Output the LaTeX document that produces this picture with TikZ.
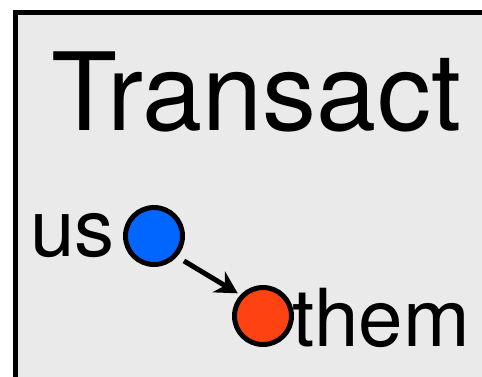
\documentclass[tikz,border=0pt]{standalone}
\usepackage{fontspec}
\setmainfont{TeX Gyre Heros}
\usetikzlibrary{positioning,arrows.meta}

\definecolor{panel}{RGB}{234,234,234}
\definecolor{usblue}{RGB}{0,102,255}
\definecolor{themred}{RGB}{255,66,17}

\begin{document}
\begin{tikzpicture}[x=1pt, y=-1pt,
        dot/.style={circle, draw=black, line width=5pt, minimum size=57pt, inner sep=0pt},
        word/.style={inner sep=0pt, font=\fontsize{80}{82}\selectfont}]
        \useasboundingbox (0,0) rectangle (482,376);
        \clip (0,0) rectangle (482,376);

        \draw[black, line width=5pt, fill=panel] (15.5,12.5) rectangle (500,400);

        \node[anchor=base, inner sep=0pt, font=\fontsize{108}{110}\selectfont] (title) at (256,130) {Transact};

        \node[dot, fill=usblue] (usdot) at (154,236) {};
        \node[dot, fill=themred] (themdot) at (263,316) {};
        \node[word, left=8pt of usdot] (us) {us};
        \node[word, right=-2pt of themdot, yshift=-2pt] (them) {them};

        \draw[line width=5pt, -{Stealth[length=22pt, width=24pt, inset=7pt]}, shorten <=8pt, shorten >=3pt] (usdot.-42) -- (themdot.137);
    \end{tikzpicture}
\end{document}
